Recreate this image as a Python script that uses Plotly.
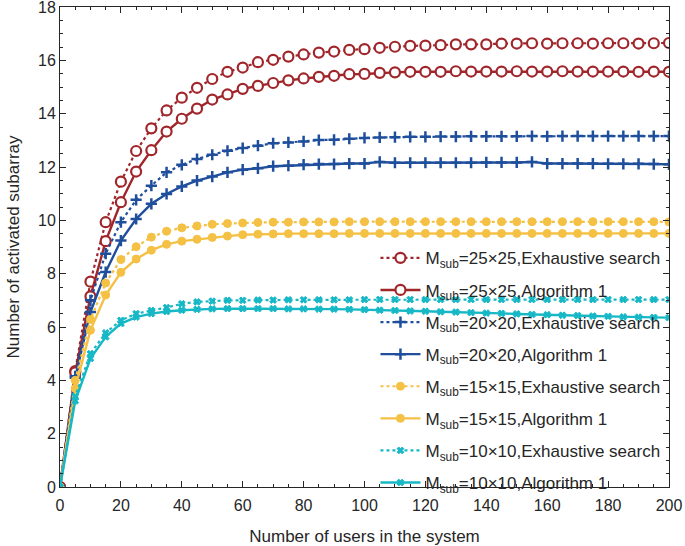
import plotly.graph_objects as go

users = list(range(0, 201, 5))

# M_sub = 25x25
es_25 = [0, 4.35, 7.7, 9.93, 11.45, 12.6, 13.45, 14.12, 14.6, 14.97, 15.3, 15.57, 15.73, 15.93,
         16.02, 16.14, 16.22, 16.29, 16.33, 16.39, 16.42, 16.47, 16.51, 16.54, 16.55, 16.57, 16.6,
         16.6, 16.6, 16.63, 16.63, 16.64, 16.63, 16.64, 16.64, 16.63, 16.64, 16.64, 16.63, 16.64, 16.65]
alg_25 = [0, 4.3, 7.15, 9.22, 10.68, 11.83, 12.63, 13.33, 13.81, 14.19, 14.53, 14.72, 14.93, 15.04,
          15.15, 15.25, 15.32, 15.38, 15.42, 15.48, 15.49, 15.53, 15.55, 15.57, 15.57, 15.57, 15.59,
          15.58, 15.58, 15.58, 15.59, 15.58, 15.58, 15.59, 15.58, 15.58, 15.58, 15.58, 15.57, 15.58, 15.57]

# M_sub = 20x20
es_20 = [0, 4.15, 7.0, 8.75, 9.93, 10.77, 11.3, 11.8, 12.08, 12.3, 12.46, 12.61, 12.71, 12.8,
         12.89, 12.92, 12.96, 13.01, 13.02, 13.06, 13.09, 13.11, 13.12, 13.13, 13.13, 13.14, 13.14,
         13.15, 13.15, 13.15, 13.15, 13.16, 13.15, 13.16, 13.16, 13.16, 13.16, 13.16, 13.16, 13.16, 13.16]
alg_20 = [0, 4.1, 6.56, 8.06, 9.24, 10.05, 10.62, 10.99, 11.27, 11.49, 11.64, 11.8, 11.9, 11.95,
          12.03, 12.05, 12.09, 12.11, 12.11, 12.13, 12.13, 12.19, 12.16, 12.16, 12.16, 12.16, 12.16,
          12.16, 12.17, 12.17, 12.17, 12.19, 12.13, 12.13, 12.13, 12.13, 12.12, 12.12, 12.12, 12.11, 12.1]

# M_sub = 15x15
es_15 = [0, 4.0, 6.28, 7.65, 8.53, 9.01, 9.37, 9.59, 9.72, 9.79, 9.85, 9.88, 9.9, 9.92,
         9.93, 9.93, 9.94, 9.94, 9.94, 9.95, 9.95, 9.95, 9.95, 9.95, 9.95, 9.95, 9.95,
         9.95, 9.95, 9.95, 9.95, 9.95, 9.95, 9.95, 9.95, 9.95, 9.95, 9.95, 9.95, 9.95, 9.94]
alg_15 = [0, 3.7, 5.88, 7.2, 8.05, 8.55, 8.88, 9.1, 9.22, 9.29, 9.36, 9.41, 9.46, 9.48,
          9.49, 9.5, 9.5, 9.5, 9.5, 9.51, 9.51, 9.51, 9.51, 9.51, 9.51, 9.51, 9.51,
          9.51, 9.51, 9.51, 9.51, 9.51, 9.51, 9.51, 9.51, 9.51, 9.51, 9.51, 9.51, 9.51, 9.51]

# M_sub = 10x10
es_10 = [0, 3.4, 5.0, 5.78, 6.25, 6.5, 6.62, 6.73, 6.87, 6.94, 6.97, 7.0, 7.0, 7.01,
         7.01, 7.02, 7.02, 7.02, 7.02, 7.02, 7.03, 7.03, 7.03, 7.03, 7.03, 7.03, 7.03,
         7.03, 7.03, 7.03, 7.03, 7.03, 7.03, 7.03, 7.03, 7.03, 7.03, 7.03, 7.03, 7.03, 7.03]
alg_10 = [0, 3.23, 4.82, 5.63, 6.13, 6.37, 6.5, 6.58, 6.63, 6.66, 6.68, 6.69, 6.69, 6.69,
          6.69, 6.68, 6.68, 6.67, 6.67, 6.66, 6.65, 6.63, 6.62, 6.6, 6.59, 6.57, 6.56,
          6.54, 6.52, 6.51, 6.49, 6.47, 6.46, 6.44, 6.43, 6.41, 6.4, 6.38, 6.37, 6.36, 6.35]

sizes = ["25", "20", "15", "10"]
colors = ["#A0262B", "#1F4F9C", "#F4C145", "#17B8C6"]
symbols = ["circle", "cross-thin", "circle", "x"]
fills = ["white", None, None, None]  # red circles are hollow (white inside)
msizes = [10, 8, 8, 6]
mline = [2.2, 2.5, 1, 1]
series = [(es_25, alg_25), (es_20, alg_20), (es_15, alg_15), (es_10, alg_10)]

fig = go.Figure()
for k in range(4):
    for j, (name, dash, lw) in enumerate([("Exhaustive search", "dot", 2.2), ("Algorithm 1", "solid", 2.4)]):
        fig.add_trace(go.Scatter(
            x=users, y=series[k][j],
            mode="lines+markers",
            name=f"M<sub>sub</sub>={sizes[k]}\u00d7{sizes[k]},{name}",
            legendgroup=f"g{k}{j}",
            line=dict(color=colors[k], width=lw, dash=dash),
            marker=dict(symbol=symbols[k], size=msizes[k], color=fills[k] or colors[k],
                        line=dict(color=colors[k], width=mline[k])),
        ))

axis_common = dict(
    showline=True, linecolor="#262626", linewidth=1, mirror="ticks",
    ticks="inside", ticklen=6, tickcolor="#262626", showgrid=False, zeroline=False,
    tickfont=dict(size=16, color="#262626"), ticklabeloverflow="allow", automargin=False,
)
fig.update_xaxes(range=[0, 200], dtick=20, tick0=0, ticklabelstandoff=4,
                 minor=dict(ticks="inside", ticklen=3, dtick=5, tickcolor="#262626"),
                 title=dict(text="Number of users in the system", font=dict(size=17, color="#262626"), standoff=16),
                 **axis_common)
fig.update_yaxes(range=[0, 18], dtick=2, tick0=0,
                 minor=dict(ticks="inside", ticklen=3, dtick=0.5, tickcolor="#262626"),
                 title=dict(text="Number of activated subarray", font=dict(size=17, color="#262626"), standoff=14),
                 **axis_common)

fig.update_layout(
    width=685, height=546,
    margin=dict(l=60, r=16, t=7, b=59),
    plot_bgcolor="white", paper_bgcolor="white",
    font=dict(family="Liberation Sans, Arial, sans-serif", size=16, color="#262626"),
    legend=dict(x=0.518, y=0.514, xanchor="left", yanchor="top",
                bgcolor="rgba(0,0,0,0)", borderwidth=0, tracegroupgap=7,
                font=dict(size=17), itemwidth=40),
)

# drop the default page margin so the figure sits at the window's corner
fig.write_html("out.html", config={"displayModeBar": False},
               post_script="document.body.style.margin='0';")
